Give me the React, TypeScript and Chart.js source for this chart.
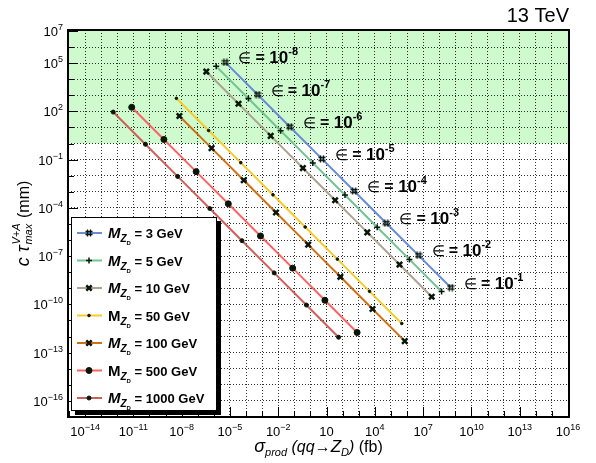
import React, { useEffect, useRef } from 'react';
import { Chart, registerables } from 'chart.js';
import { drawPoint } from 'chart.js/helpers';
Chart.register(...registerables);

const W = 596;
const H = 463;
const FF = '"Liberation Sans", Arial, Helvetica, sans-serif';

// Series: one per dark-photon mass, points at eps = 1e-8 ... 1e-1
const massLabels = ['3 GeV', '5 GeV', '10 GeV', '50 GeV', '100 GeV', '500 GeV', '1000 GeV'];
const italicM = [true, true, true, false, true, false, true];
const epsilonExponents = [-8, -7, -6, -5, -4, -3, -2, -1];

const sigma3 = [5.2e-6, 5.2e-4, 5.2e-2, 5.2, 5.2e2, 5.2e4, 5.2e6, 5.2e8];
const ctau3 = [1.12e5, 1.12e3, 11.2, 0.112, 1.12e-3, 1.12e-5, 1.12e-7, 1.12e-9];
const sigma5 = [1.4e-6, 1.4e-4, 1.4e-2, 1.4, 1.4e2, 1.4e4, 1.4e6, 1.4e8];
const ctau5 = [6.3e4, 630, 6.3, 6.3e-2, 6.3e-4, 6.3e-6, 6.3e-8, 6.3e-10];
const sigma10 = [3.4e-7, 3.4e-5, 3.4e-3, 0.34, 34, 3.4e3, 3.4e5, 3.4e7];
const ctau10 = [3.0e4, 300, 3.0, 3.0e-2, 3.0e-4, 3.0e-6, 3.0e-8, 3.0e-10];
const sigma50 = [4.7e-9, 4.7e-7, 4.7e-5, 4.7e-3, 0.47, 47, 4.7e3, 4.7e5];
const ctau50 = [650, 6.5, 6.5e-2, 6.5e-4, 6.5e-6, 6.5e-8, 6.5e-10, 6.5e-12];
const sigma100 = [7.2e-9, 7.2e-7, 7.2e-5, 7.2e-3, 0.72, 72, 7.2e3, 7.2e5];
const ctau100 = [52, 0.52, 5.2e-3, 5.2e-5, 5.2e-7, 5.2e-9, 5.2e-11, 5.2e-13];
const sigma500 = [7.9e-12, 7.9e-10, 7.9e-8, 7.9e-6, 7.9e-4, 7.9e-2, 7.9, 790];
const ctau500 = [180, 1.8, 1.8e-2, 1.8e-4, 1.8e-6, 1.8e-8, 1.8e-10, 1.8e-12];
const sigma1000 = [5.6e-13, 5.6e-11, 5.6e-9, 5.6e-7, 5.6e-5, 5.6e-3, 0.56, 56];
const ctau1000 = [91, 0.91, 9.1e-3, 9.1e-5, 9.1e-7, 9.1e-9, 9.1e-11, 9.1e-13];

const sigmaSeries = [sigma3, sigma5, sigma10, sigma50, sigma100, sigma500, sigma1000];
const ctauSeries = [ctau3, ctau5, ctau10, ctau50, ctau100, ctau500, ctau1000];

const lineColors = [
  'rgb(104,140,214)',
  'rgb(110,198,146)',
  'rgb(172,164,146)',
  'rgb(246,204,40)',
  'rgb(206,112,20)',
  'rgb(250,100,100)',
  'rgb(204,96,92)',
];
const markerKinds = ['hash', 'cross', 'crossRot', 'circle', 'crossRot', 'circle', 'circle'];
const markerRadius = [3.5, 3, 3.8, 1.3, 3.8, 3, 2];
const markerBorder = [1, 1.5, 2.5, 1, 2.5, 1, 1];
const MARK = '#0b160b';

// Axes
const X_MIN = 8.7e-16;
const X_MAX = 1.15e16;
const Y_MIN = 1e-17;
const Y_MAX = 1.15e7;
const xGridExponents = [-15, -14, -13, -12, -11, -10, -9, -8, -7, -6, -5, -4, -3, -2, -1, 0, 1, 2, 3, 4, 5, 6, 7, 8, 9, 10, 11, 12, 13, 14, 15, 16];
const yGridExponents = [-17, -16, -15, -14, -13, -12, -11, -10, -9, -8, -7, -6, -5, -4, -3, -2, -1, 0, 1, 2, 3, 4, 5, 6, 7];
const xTickLabelExponents = [-14, -11, -8, -5, -2, 1, 4, 7, 10, 13, 16];
const yTickLabelExponents = [-16, -13, -10, -7, -4, -1, 2, 5, 7];
const BAND_MIN = 1; // mm, shaded region above

type Seg = { t: string; font: string; dy?: number };

function segsWidth(ctx: CanvasRenderingContext2D, segs: Seg[]) {
  let w = 0;
  for (const s of segs) {
    ctx.font = s.font;
    w += ctx.measureText(s.t).width;
  }
  return w;
}

function drawSegs(ctx: CanvasRenderingContext2D, segs: Seg[], x: number, y: number, align: 'left' | 'center' | 'right') {
  const w = segsWidth(ctx, segs);
  let cx = align === 'left' ? x : align === 'center' ? x - w / 2 : x - w;
  ctx.textAlign = 'left';
  ctx.textBaseline = 'alphabetic';
  for (const s of segs) {
    ctx.font = s.font;
    ctx.fillText(s.t, cx, y + (s.dy || 0));
    cx += ctx.measureText(s.t).width;
  }
}

function expSegs(n: number): Seg[] {
  if (n === 1) return [{ t: '10', font: `13px ${FF}` }];
  const e = n < 0 ? '\u2212' + String(-n) : String(n);
  return [
    { t: '10', font: `13px ${FF}` },
    { t: e, font: `9px ${FF}`, dy: -6 },
  ];
}

function makeHash(): HTMLCanvasElement {
  const c = document.createElement('canvas');
  c.width = 8;
  c.height = 8;
  const g = c.getContext('2d')!;
  g.strokeStyle = MARK;
  g.lineWidth = 1.3;
  g.beginPath();
  g.moveTo(2.5, 0.5); g.lineTo(2.5, 7.5);
  g.moveTo(5.5, 0.5); g.lineTo(5.5, 7.5);
  g.moveTo(0.5, 2.5); g.lineTo(7.5, 2.5);
  g.moveTo(0.5, 5.5); g.lineTo(7.5, 5.5);
  g.stroke();
  return c;
}

export default function App() {
  const ref = useRef<HTMLCanvasElement | null>(null);

  useEffect(() => {
    const canvas = ref.current;
    if (!canvas) return;
    const hash = makeHash();
    const styleOf = (i: number): any => (markerKinds[i] === 'hash' ? hash : markerKinds[i]);

    const datasets = sigmaSeries.map((sig, i) => ({
      label: massLabels[i],
      data: sig.map((x, j) => ({ x, y: ctauSeries[i][j] })),
      showLine: true,
      borderColor: lineColors[i],
      borderWidth: 2,
      pointStyle: styleOf(i),
      pointRadius: markerRadius[i],
      pointBorderWidth: markerBorder[i],
      pointBackgroundColor: MARK,
      pointBorderColor: MARK,
    }));

    const decoration = {
      id: 'decoration',
      beforeDraw(chart: any) {
        const { ctx, chartArea: a, scales } = chart;
        ctx.save();
        ctx.fillStyle = '#ffffff';
        ctx.fillRect(0, 0, W, H);
        const yb = scales.y.getPixelForValue(BAND_MIN);
        ctx.fillStyle = 'rgb(206,250,206)';
        ctx.fillRect(a.left, a.top, a.right - a.left, yb - a.top);
        ctx.restore();
      },
      afterDraw(chart: any) {
        const { ctx, chartArea: a, scales } = chart;
        const xs = scales.x;
        const ys = scales.y;
        ctx.save();
        ctx.fillStyle = '#000';
        ctx.strokeStyle = '#000';

        // ticks
        ctx.lineWidth = 1;
        ctx.beginPath();
        for (const e of xGridExponents) {
          const px = Math.round(xs.getPixelForValue(Math.pow(10, e))) + 0.5;
          const len = xTickLabelExponents.includes(e) ? 10 : 6;
          ctx.moveTo(px, a.bottom);
          ctx.lineTo(px, a.bottom - len);
        }
        for (const e of yGridExponents) {
          const py = Math.round(ys.getPixelForValue(Math.pow(10, e))) + 0.5;
          const len = yTickLabelExponents.includes(e) ? 10 : 6;
          ctx.moveTo(a.left, py);
          ctx.lineTo(a.left + len, py);
        }
        ctx.stroke();

        // frame
        ctx.lineWidth = 2;
        ctx.strokeRect(a.left, a.top, a.right - a.left, a.bottom - a.top);

        // tick labels
        for (const e of xTickLabelExponents) {
          const px = xs.getPixelForValue(Math.pow(10, e));
          drawSegs(ctx, expSegs(e), px, a.bottom + 19, 'center');
        }
        for (const e of yTickLabelExponents) {
          const py = ys.getPixelForValue(Math.pow(10, e));
          drawSegs(ctx, expSegs(e), a.left - 5, py + 5, 'right');
        }

        // x title
        drawSegs(
          ctx,
          [
            { t: '\u03c3', font: `italic 18px ${FF}` },
            { t: 'prod', font: `italic 11px ${FF}`, dy: 4 },
            { t: ' (qq', font: `italic 16px ${FF}` },
            { t: '\u2192', font: `16px ${FF}` },
            { t: 'Z', font: `italic 17px ${FF}` },
            { t: 'D', font: `italic 11px ${FF}`, dy: 4 },
            { t: ')', font: `italic 16px ${FF}` },
            { t: ' (fb)', font: `16px ${FF}` },
          ],
          (a.left + a.right) / 2,
          452,
          'center'
        );

        // y title (rotated)
        ctx.save();
        ctx.translate(29, (a.top + a.bottom) / 2);
        ctx.rotate(-Math.PI / 2);
        const fMain = `italic 18px ${FF}`;
        const fSmall = `italic 11px ${FF}`;
        const fMm = `16px ${FF}`;
        ctx.font = fMain;
        const wMain = ctx.measureText('c \u03c4').width;
        ctx.font = fSmall;
        const wSup = Math.max(ctx.measureText('V+A').width, ctx.measureText('max').width);
        ctx.font = fMm;
        const wMm = ctx.measureText(' (mm)').width;
        let cx = -(wMain + wSup + 2 + wMm) / 2;
        ctx.textAlign = 'left';
        ctx.textBaseline = 'alphabetic';
        ctx.font = fMain;
        ctx.fillText('c \u03c4', cx, 0);
        cx += wMain + 1;
        ctx.font = fSmall;
        ctx.fillText('V+A', cx, -9);
        ctx.fillText('max', cx, 3);
        cx += wSup + 1;
        ctx.font = fMm;
        ctx.fillText(' (mm)', cx, 0);
        ctx.restore();

        // energy label
        drawSegs(ctx, [{ t: '13 TeV', font: `20px ${FF}` }], a.right, 22, 'right');

        // epsilon labels next to the 3 GeV points
        const meta = chart.getDatasetMeta(0);
        epsilonExponents.forEach((e, k) => {
          const pt = meta.data[k];
          if (!pt) return;
          drawSegs(
            ctx,
            [
              { t: '\u2208 ', font: `15px ${FF}` },
              { t: '= ', font: `bold 16px ${FF}` },
              { t: '10', font: `bold 17px ${FF}` },
              { t: '-' + String(-e), font: `bold 11px ${FF}`, dy: -8 },
            ],
            pt.x + 13,
            pt.y + 1,
            'left'
          );
        });

        // legend
        const L = { x: 71, y: 217, w: 146, h: 194 };
        ctx.fillStyle = '#000';
        ctx.fillRect(L.x + 4, L.y + 4, L.w, L.h);
        ctx.fillStyle = '#fff';
        ctx.fillRect(L.x, L.y, L.w, L.h);
        ctx.lineWidth = 1;
        ctx.strokeStyle = '#000';
        ctx.strokeRect(L.x + 0.5, L.y + 0.5, L.w - 1, L.h - 1);
        massLabels.forEach((lab, i) => {
          const ry = 233 + i * 27.5;
          ctx.strokeStyle = lineColors[i];
          ctx.lineWidth = 2;
          ctx.beginPath();
          ctx.moveTo(77, ry);
          ctx.lineTo(102, ry);
          ctx.stroke();
          ctx.fillStyle = MARK;
          ctx.strokeStyle = MARK;
          ctx.lineWidth = markerBorder[i];
          drawPoint(ctx, { pointStyle: styleOf(i), radius: markerRadius[i], rotation: 0, borderWidth: markerBorder[i] } as any, 89, ry);
          ctx.fillStyle = '#000';
          drawSegs(
            ctx,
            [
              { t: 'M', font: `bold ${italicM[i] ? 'italic ' : ''}15px ${FF}` },
              { t: 'Z', font: `bold italic 10px ${FF}`, dy: 4 },
              { t: 'D', font: `bold 6px ${FF}`, dy: 7 },
              { t: ' = ' + lab, font: `bold 13px ${FF}` },
            ],
            108,
            ry + 5,
            'left'
          );
        });

        ctx.restore();
      },
    };

    const chart = new Chart(canvas, {
      type: 'scatter',
      data: { datasets: datasets as any },
      options: {
        animation: false,
        responsive: false,
        devicePixelRatio: 1,
        events: [],
        layout: { padding: { left: 68, right: 27, top: 30, bottom: 46 } },
        plugins: { legend: { display: false }, tooltip: { enabled: false } },
        scales: {
          x: {
            type: 'logarithmic',
            min: X_MIN,
            max: X_MAX,
            bounds: 'data',
            afterBuildTicks: (s: any) => {
              s.ticks = xGridExponents.map((e) => ({ value: Math.pow(10, e) }));
            },
            ticks: { display: false },
            grid: { color: 'rgba(0,0,0,0.8)', lineWidth: 1, drawTicks: false },
            border: { display: false, dash: [1, 2] },
          },
          y: {
            type: 'logarithmic',
            min: Y_MIN,
            max: Y_MAX,
            bounds: 'data',
            afterBuildTicks: (s: any) => {
              s.ticks = yGridExponents.map((e) => ({ value: Math.pow(10, e) }));
            },
            ticks: { display: false },
            grid: { color: 'rgba(0,0,0,0.8)', lineWidth: 1, drawTicks: false },
            border: { display: false, dash: [1, 2] },
          },
        } as any,
      },
      plugins: [decoration],
    });
    return () => chart.destroy();
  }, []);

  return (
    <div style={{ position: 'fixed', left: 0, top: 0, width: W, height: H, background: '#fff' }}>
      <canvas ref={ref} width={W} height={H} style={{ display: 'block' }} />
    </div>
  );
}
